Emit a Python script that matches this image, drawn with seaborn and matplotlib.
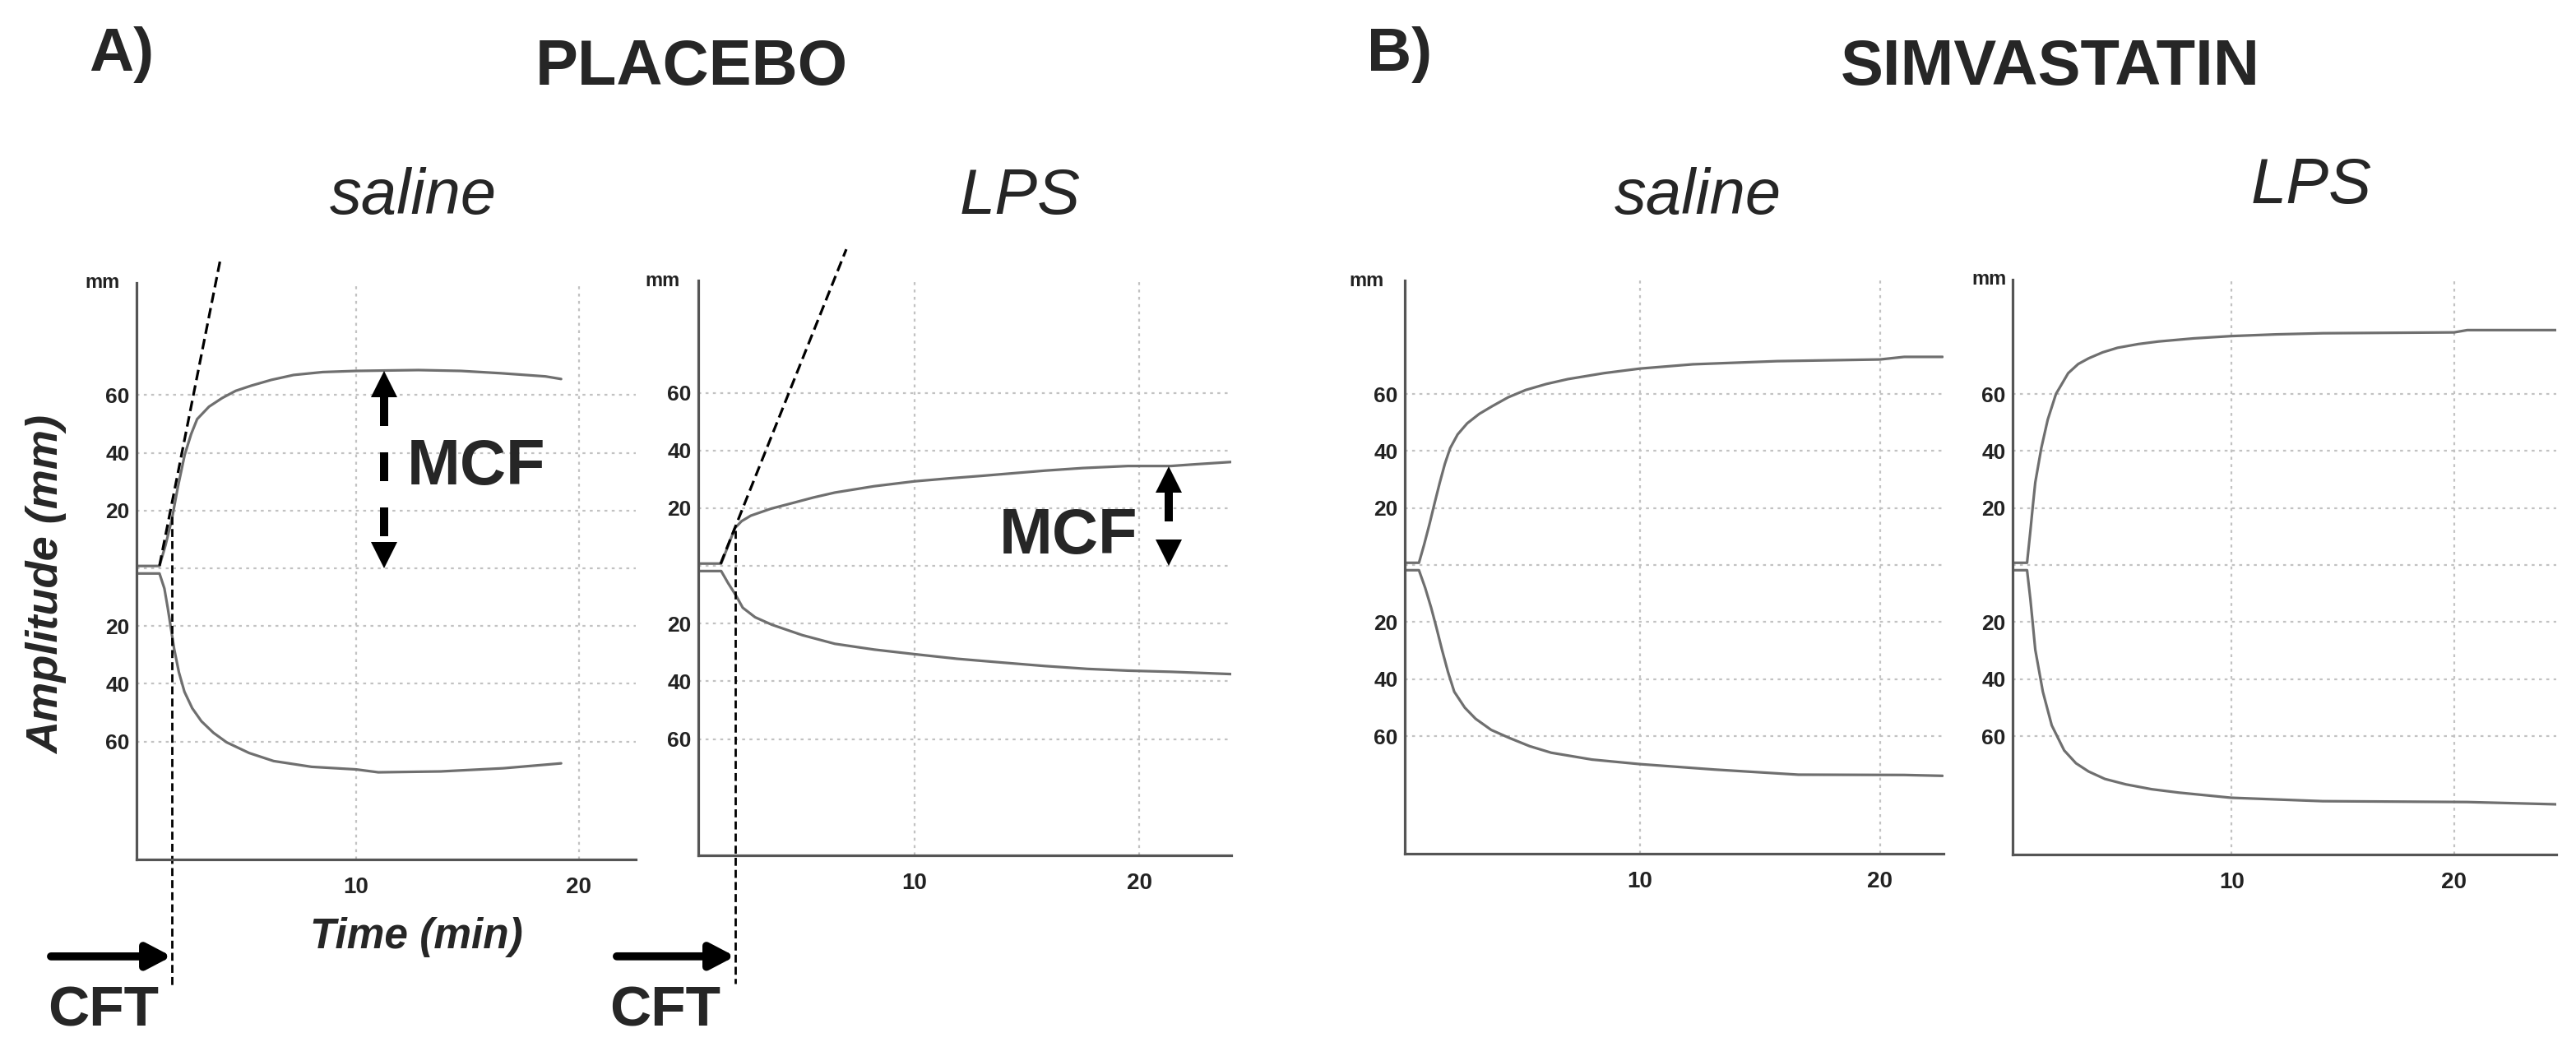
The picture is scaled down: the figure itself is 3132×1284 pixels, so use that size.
import numpy as np
import pandas as pd
import matplotlib
matplotlib.use("Agg")
import matplotlib.pyplot as plt
import seaborn as sns

# ROTEM traces: time (min) and amplitude (mm), upper / lower branch
# A) placebo - saline
pla_sal_t_up = [0.15, 1.18, 1.45, 1.73, 2.0, 2.31, 2.6, 2.87, 3.4, 3.99, 4.6, 5.3, 6.2, 7.2, 8.5, 10.0, 12.8, 14.7, 16.5, 17.6, 18.5, 19.2]
pla_sal_up = [0.8, 0.8, 8.0, 16.8, 28.0, 39.3, 46.5, 51.7, 56.0, 59.0, 61.5, 63.3, 65.3, 67.0, 68.0, 68.4, 68.7, 68.4, 67.6, 67.0, 66.5, 65.6]
pla_sal_t_lo = [0.15, 1.18, 1.4, 1.55, 1.84, 2.05, 2.3, 2.65, 3.06, 3.6, 4.19, 5.2, 6.3, 8.0, 10.0, 11.0, 13.8, 16.6, 19.2]
pla_sal_lo = [-1.8, -1.8, -7.0, -13.7, -28.0, -36.0, -42.8, -48.5, -53.0, -57.0, -60.3, -64.0, -66.8, -68.8, -69.7, -70.7, -70.4, -69.3, -67.6]

# A) placebo - LPS
pla_lps_t_up = [0.37, 1.39, 1.7, 2.0, 2.3, 2.71, 3.6, 4.58, 5.5, 6.45, 8.2, 10.0, 11.5, 13.0, 15.8, 17.5, 19.5, 21.4, 22.5, 24.1]
pla_lps_up = [0.8, 0.8, 7.0, 13.1, 15.5, 17.4, 19.8, 21.8, 23.7, 25.4, 27.6, 29.3, 30.3, 31.2, 33.0, 33.9, 34.6, 34.6, 35.2, 36.0]
pla_lps_t_lo = [0.37, 1.39, 1.7, 2.05, 2.35, 2.9, 3.65, 5.0, 6.45, 8.2, 10.0, 11.9, 13.9, 15.8, 17.7, 19.5, 21.4, 24.1]
pla_lps_lo = [-1.8, -1.8, -6.0, -10.3, -14.5, -17.8, -20.4, -24.0, -27.0, -29.0, -30.6, -32.2, -33.5, -34.7, -35.7, -36.3, -36.7, -37.5]

# B) simvastatin - saline
sim_sal_t_up = [0.2, 0.79, 1.0, 1.23, 1.45, 1.66, 1.87, 2.09, 2.4, 2.8, 3.3, 3.84, 4.5, 5.24, 6.1, 6.99, 8.5, 10.0, 12.2, 15.7, 20.0, 21.0, 22.6]
sim_sal_up = [0.8, 0.8, 7.0, 14.4, 22.0, 29.0, 35.5, 41.0, 45.8, 49.7, 53.0, 55.7, 58.8, 61.4, 63.5, 65.2, 67.3, 68.9, 70.4, 71.5, 72.1, 73.0, 73.0]
sim_sal_t_lo = [0.2, 0.79, 1.05, 1.3, 1.52, 1.75, 2.0, 2.26, 2.7, 3.15, 3.8, 4.55, 5.4, 6.3, 8.0, 10.0, 13.1, 16.6, 21.0, 22.6]
sim_sal_lo = [-1.8, -1.8, -8.0, -15.0, -22.0, -29.7, -37.5, -44.4, -50.0, -53.9, -57.8, -60.6, -63.5, -65.8, -68.2, -69.8, -71.7, -73.5, -73.6, -73.9]

# B) simvastatin - LPS
sim_lps_t_up = [0.15, 0.8, 0.95, 1.05, 1.17, 1.44, 1.73, 2.1, 2.65, 3.1, 3.57, 4.2, 4.87, 5.8, 6.7, 8.3, 9.98, 12.0, 14.1, 20.0, 20.6, 24.6]
sim_lps_up = [0.8, 0.8, 12.0, 20.0, 29.0, 41.0, 51.0, 60.0, 67.3, 70.5, 72.5, 74.6, 76.2, 77.5, 78.4, 79.5, 80.3, 80.9, 81.3, 81.6, 82.4, 82.4]
sim_lps_t_lo = [0.15, 0.8, 0.95, 1.05, 1.17, 1.51, 1.91, 2.47, 3.0, 3.57, 4.3, 5.24, 6.4, 7.63, 9.98, 14.1, 20.6, 24.6]
sim_lps_lo = [-1.8, -1.8, -12.0, -20.0, -29.7, -44.4, -56.2, -65.0, -69.5, -72.4, -75.0, -76.9, -78.6, -79.8, -81.6, -82.8, -83.1, -83.9]

# clot formation time / MCF annotations for the placebo panels
cft_time = [1.73, 2.01]
tangent_t = [[1.18, 3.91], [1.36, 6.96]]
tangent_amp = [[0.9, 107.0], [0.7, 109.7]]
mcf_time = [11.25, 21.3]

y_ticks = [-60, -40, -20, 0, 20, 40, 60]
y_ticklabels = ["60", "40", "20", "", "20", "40", "60"]
x_ticks = [10, 20]
subtitles = ["saline", "LPS", "saline", "LPS"]

W, H = 3132, 1284
sns.set_style("white")
plt.rcParams["font.family"] = ["Liberation Sans", "DejaVu Sans"]

fig = plt.figure(figsize=(W / 100, H / 100), dpi=100)


def rect(L, T, R, B):
    return [L / W, 1 - B / H, (R - L) / W, (B - T) / H]


def ftext(x, y, s, **kw):
    fig.text(x / W, 1 - y / H, s, **kw)


# pixel boxes and axis ranges of the four recorder panels
layout = [
    dict(box=(166, 344, 773, 1045), xlim=(0.15, 22.55), ylim=(-100.9, 98.9)),
    dict(box=(849, 341, 1497, 1040), xlim=(0.37, 24.1), ylim=(-100.3, 98.9)),
    dict(box=(1708, 341, 2363, 1038), xlim=(0.2, 22.64), ylim=(-101.2, 99.8)),
    dict(box=(2447, 340, 3108, 1039), xlim=(0.15, 24.6), ylim=(-101.5, 100.1)),
]
traces = [
    (pla_sal_t_up, pla_sal_up, pla_sal_t_lo, pla_sal_lo),
    (pla_lps_t_up, pla_lps_up, pla_lps_t_lo, pla_lps_lo),
    (sim_sal_t_up, sim_sal_up, sim_sal_t_lo, sim_sal_lo),
    (sim_lps_t_up, sim_lps_up, sim_lps_t_lo, sim_lps_lo),
]
mm_offset = [-15, -16, -18, -5]

axes = []
for i, (lay, tr) in enumerate(zip(layout, traces)):
    ax = fig.add_axes(rect(*lay["box"]))
    axes.append(ax)
    t_up, a_up, t_lo, a_lo = tr
    df = pd.concat([
        pd.DataFrame({"time": t_up, "amp": a_up, "branch": "upper"}),
        pd.DataFrame({"time": t_lo, "amp": a_lo, "branch": "lower"}),
    ])
    sns.lineplot(data=df, x="time", y="amp", units="branch", estimator=None,
                 sort=False, color="#6f6f6f", lw=2.3, ax=ax)
    ax.set_xlim(*lay["xlim"])
    ax.set_ylim(*lay["ylim"])
    ax.set_xticks(x_ticks)
    ax.set_xticklabels([str(v) for v in x_ticks], fontweight="bold", fontsize=20)
    ax.set_yticks(y_ticks)
    ax.set_yticklabels(y_ticklabels, fontweight="bold", fontsize=19)
    ax.tick_params(axis="x", length=0, pad=15, colors="#222222")
    ax.tick_params(axis="y", length=0, pad=6, colors="#222222")
    ax.grid(True, color="#c2c2c2", linestyle=(0, (1.6, 2.4)), lw=1.6)
    ax.set_xlabel("")
    ax.set_ylabel("")
    sns.despine(ax=ax)
    for side in ["left", "bottom"]:
        ax.spines[side].set_color("#555555")
        ax.spines[side].set_linewidth(2.3)
    ax.annotate("mm", xy=(0, 1), xycoords="axes fraction", xytext=(mm_offset[i], 0),
                textcoords="offset points", ha="right", va="center",
                fontsize=17, fontweight="bold", color="#222222")

# CFT / MCF constructions on the placebo panels
cft_arrow_amp = [-134.5, -135.3]
cft_arrow_start = [-3.69, -3.26]
cft_text_t = [-1.33, -1.1]
cft_text_amp = [-158.5, -159.3]
cft_top = [18.0, 12.3]
mcf_text_t = [15.4, 16.85]
mcf_text_amp = [29.1, 4.3]
for k in range(2):
    ax = axes[k]
    lay = layout[k]
    t_up, a_up = traces[k][0], traces[k][1]
    L, T, R, B = lay["box"]
    px_mm = (B - T) / (lay["ylim"][1] - lay["ylim"][0])

    # tangent and CFT line
    ax.plot(tangent_t[k], tangent_amp[k], color="black", lw=2.3,
            linestyle=(0, (4, 2)), clip_on=False)
    ax.plot([cft_time[k], cft_time[k]], [cft_top[k], -144.7], color="black", lw=2.0,
            linestyle=(0, (3.5, 1.8)), clip_on=False)
    ax.annotate("", xy=(cft_time[k], cft_arrow_amp[k]),
                xytext=(cft_arrow_start[k], cft_arrow_amp[k]),
                arrowprops=dict(arrowstyle="-|>,head_length=0.8,head_width=0.42",
                                mutation_scale=22, lw=7, color="black",
                                shrinkA=0, shrinkB=0),
                annotation_clip=False)
    ax.text(cft_text_t[k], cft_text_amp[k], "CFT", ha="center", va="baseline",
            fontsize=50, fontweight="bold", clip_on=False)

    # MCF double arrow with dashed shaft
    top = float(np.interp(mcf_time[k], t_up, a_up))
    head = 32 / px_mm
    ax.plot([mcf_time[k], mcf_time[k]], [top - head, head], color="black", lw=7.2,
            linestyle=(0, (3.5, 3.2)), dash_capstyle="butt")
    ax.plot([mcf_time[k]], [top - head / 2], marker="^", ms=23, mew=0, color="black")
    ax.plot([mcf_time[k]], [head / 2], marker="v", ms=23, mew=0, color="black")
    ax.text(mcf_text_t[k], mcf_text_amp[k], "MCF", ha="center", va="baseline",
            fontsize=56, fontweight="bold")

# titles and labels
ftext(108, 86, "A)", ha="left", va="baseline", fontsize=54, fontweight="bold")
ftext(841, 103, "PLACEBO", ha="center", va="baseline", fontsize=56, fontweight="bold")
ftext(1662, 86, "B)", ha="left", va="baseline", fontsize=54, fontweight="bold")
ftext(2493, 103, "SIMVASTATIN", ha="center", va="baseline", fontsize=56, fontweight="bold")
sub_x = [502, 1240, 2064, 2810]
sub_y = [260, 260, 260, 247]
for s, x, y in zip(subtitles, sub_x, sub_y):
    ftext(x, y, s, ha="center", va="baseline", fontsize=56, fontstyle="italic")

ftext(57, 711, "Amplitude (mm)", rotation=90, ha="center", va="center",
      fontsize=39, fontweight="bold", fontstyle="italic")
ftext(506, 1140, "Time (min)", ha="center", va="center",
      fontsize=37, fontweight="bold", fontstyle="italic")

fig.savefig("out.png", dpi=100, facecolor="white")
